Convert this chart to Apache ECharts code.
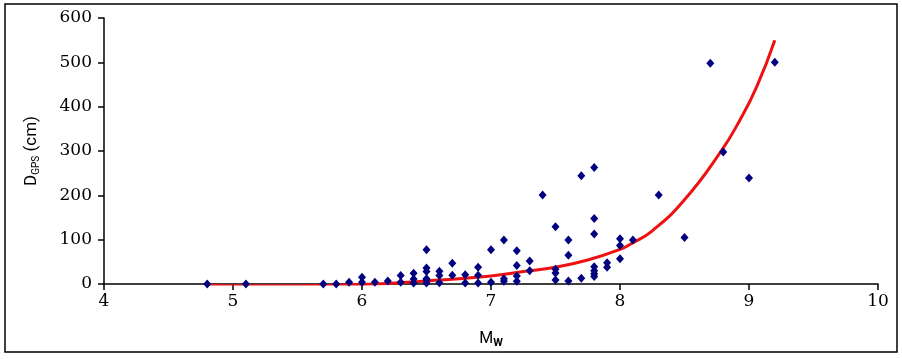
<!DOCTYPE html>
<html><head><meta charset="utf-8">
<script src="https://cdn.jsdelivr.net/npm/echarts@6/dist/echarts.min.js"></script>
<style>html,body{margin:0;padding:0;background:#fff}#c{width:902px;height:359px}</style>
</head><body><div id="c"></div>
<script>
// Observed data: magnitude Mw and GPS displacement (cm)
const obsMw = [4.8,5.1,5.7,5.8,5.9,6.0,6.0,6.1,6.2,6.3,6.3,6.4,6.4,6.4,
  6.5,6.5,6.5,6.5,6.5,6.5,6.6,6.6,6.6,6.7,6.7,6.8,6.8,6.9,6.9,6.9,
  7.0,7.0,7.1,7.1,7.1,7.2,7.2,7.2,7.2,7.3,7.3,7.4,
  7.5,7.5,7.5,7.5,7.6,7.6,7.6,7.7,7.7,
  7.8,7.8,7.8,7.8,7.8,7.8,7.8,7.9,7.9,8.0,8.0,8.0,8.1,8.3,8.5,8.7,8.8,9.0,9.2];
const obsD = [0,0,0,0,4,15,4,4,7,19,4,24,11,2,
  77,36,28,12,9,2,29,19,3,47,20,21,2,38,20,2,
  77,4,99,12,6,75,42,18,6,52,30,201,
  129,33,25,9,99,65,7,244,13,
  263,148,113,39,30,23,17,48,38,102,87,57,99,201,105,498,298,239,500];
// Fitted curve
const fitMw = [4.8,5.0,5.5,6.0,6.5,7.0,7.25,7.5,7.75,8.0,8.1,8.25,8.5,8.78,8.93,9.06,9.2];
const fitD  = [-3,-4,-4,-1,7,18,28,38,54,78,93,120,190,298,370,445,550];
const yTicks = [0,100,200,300,400,500,600];
const xTicks = [4,5,6,7,8,9,10];

const chart = echarts.init(document.getElementById('c'), null, {renderer:'canvas'});
const serif = 'DejaVu Serif';
const sans = 'Roboto';
chart.setOption({
  animation:false,
  backgroundColor:'#fff',
  grid:{left:104,right:24,top:18,bottom:75},
  xAxis:{type:'value',min:xTicks[0],max:xTicks[xTicks.length-1],interval:1,
    axisLine:{show:true,onZero:false,lineStyle:{color:'#000',width:1.5}},
    axisTick:{show:true,inside:false,length:6,lineStyle:{color:'#000',width:1.5}},
    axisLabel:{margin:9,color:'#000',fontFamily:serif,fontSize:17},
    splitLine:{show:false},
    name:'{m|M}{s|W}',nameLocation:'middle',nameGap:45,
    nameTextStyle:{rich:{m:{fontFamily:sans,fontSize:16,color:'#000'},s:{fontFamily:sans,fontSize:11,fontWeight:'bold',color:'#000',verticalAlign:'bottom',padding:[9,0,0,0]}}}
  },
  yAxis:{type:'value',min:yTicks[0],max:yTicks[yTicks.length-1],interval:100,
    axisLine:{show:true,lineStyle:{color:'#000',width:1.5}},
    axisTick:{show:true,inside:false,length:6,lineStyle:{color:'#000',width:1.5}},
    axisLabel:{margin:12,color:'#000',fontFamily:serif,fontSize:17},
    splitLine:{show:false},
    name:'{m|D}{s|GPS}{m| (cm)}',nameLocation:'middle',nameGap:45,
    nameTextStyle:{padding:[0,0,18,0],rich:{m:{fontFamily:sans,fontSize:17,color:'#000'},s:{fontFamily:sans,fontSize:10,color:'#000',padding:[8,0,0,0]}}}
  },
  graphic:[{type:'rect',shape:{x:5,y:4,width:892,height:348},style:{fill:'none',stroke:'#000',lineWidth:1.5},silent:true}],
  series:[
    {type:'line',data:fitMw.map((m,i)=>[m,fitD[i]]),smooth:0.5,showSymbol:false,
     lineStyle:{color:'#ee1111',width:3},z:2},
    {type:'scatter',data:obsMw.map((m,i)=>[m,obsD[i]]),symbol:'diamond',symbolSize:[8,9],
     itemStyle:{color:'#000080',opacity:1},z:3}
  ]
});
</script></body></html>
